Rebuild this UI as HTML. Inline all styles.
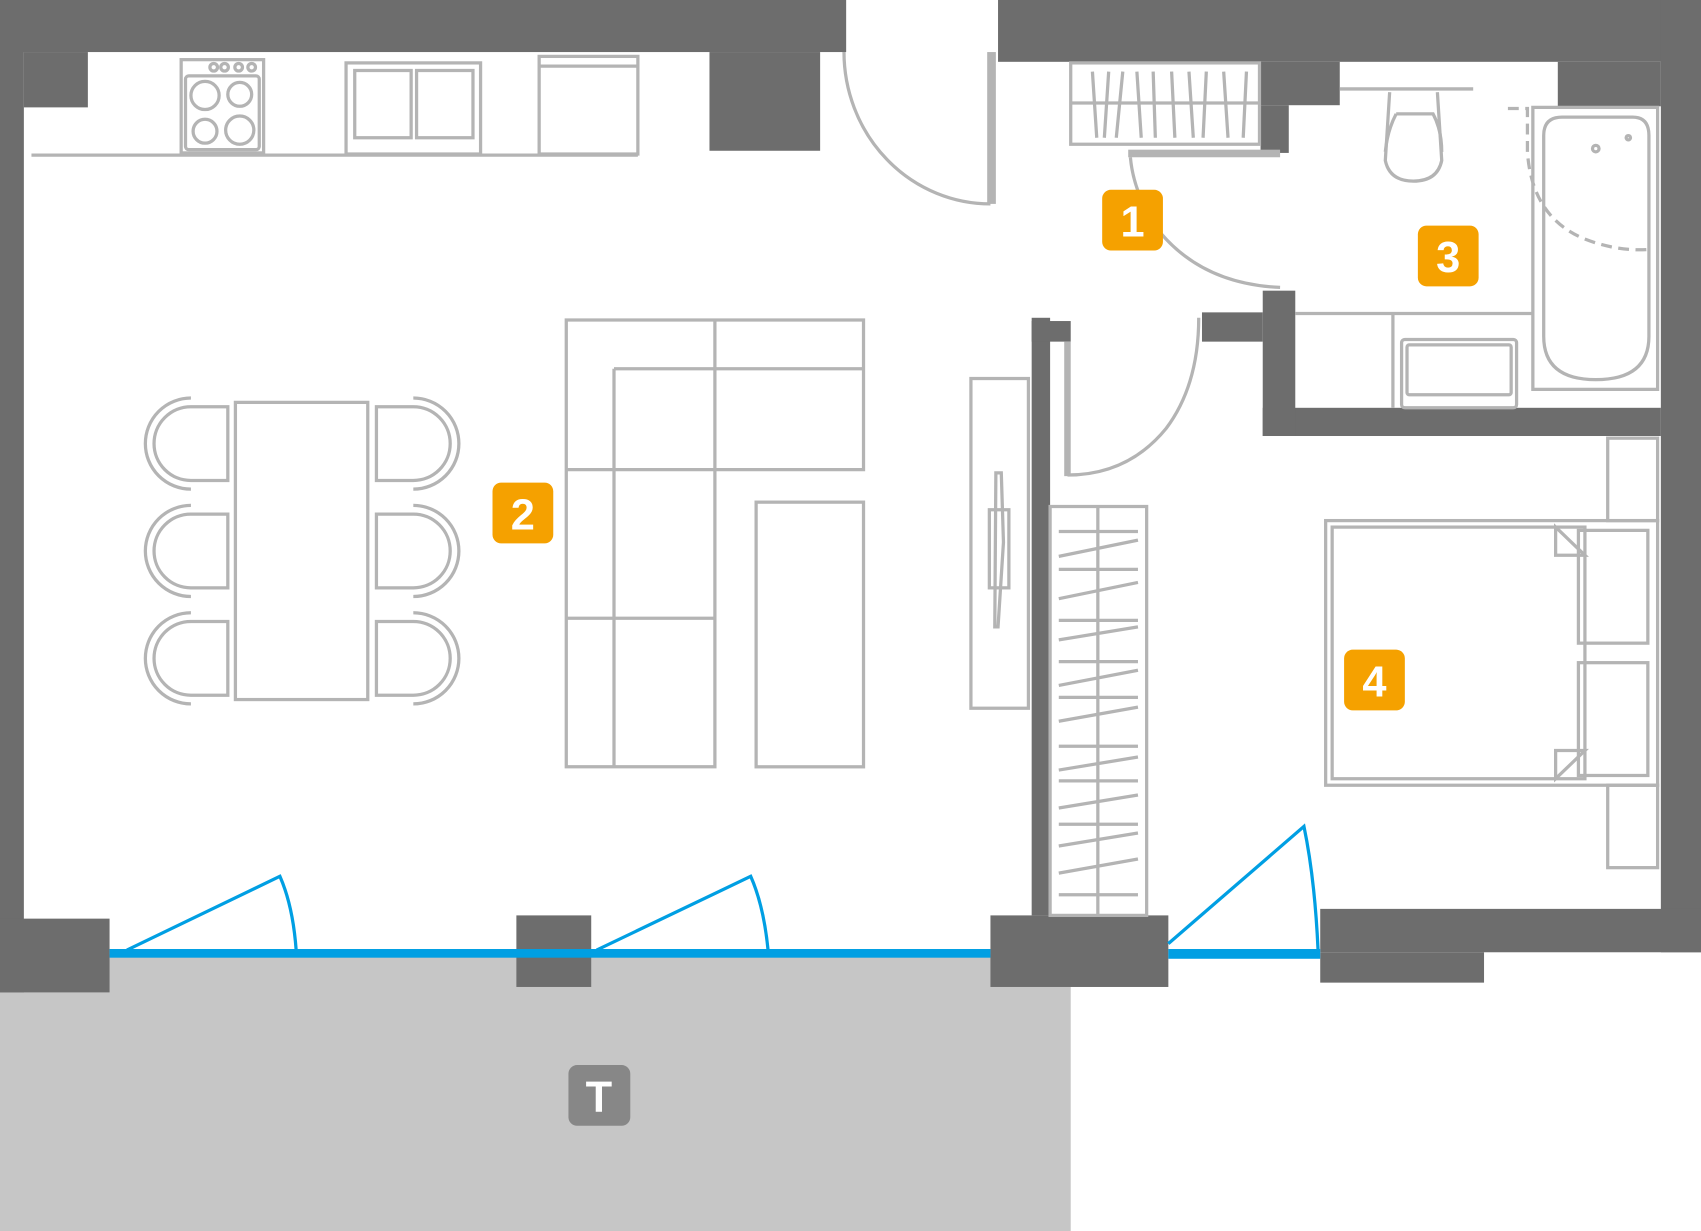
<!DOCTYPE html>
<html><head><meta charset="utf-8"><style>
html,body{margin:0;padding:0;background:#fff;width:1701px;height:1231px;overflow:hidden}
svg{display:block}
.f{fill:none;stroke:#b4b4b4;stroke-width:3}
.w{fill:#6d6d6d}
.lbl{font-family:"Liberation Sans",sans-serif;font-weight:bold;font-size:40px;fill:#fff;text-anchor:middle}
</style></head><body>
<svg width="1701" height="1231" viewBox="0 0 1568 1135" preserveAspectRatio="none" xmlns="http://www.w3.org/2000/svg">
<!-- terrace -->
<rect x="0" y="880" width="987" height="255" fill="#c6c6c6"/>
<!-- walls -->
<g class="w">
<rect x="0" y="0" width="780" height="48"/>
<rect x="0" y="0" width="22" height="915"/>
<rect x="22" y="48" width="59" height="51"/>
<rect x="654" y="48" width="102" height="91"/>
<rect x="0" y="847" width="101" height="68"/>
<rect x="476" y="844" width="69" height="66"/>
<rect x="913" y="844" width="164" height="66"/>
<rect x="920" y="0" width="648" height="57"/>
<rect x="1531" y="0" width="37" height="878"/>
<rect x="1436" y="57" width="95" height="41"/>
<rect x="1162" y="57" width="73" height="40"/>
<rect x="1162" y="97" width="26" height="44"/>
<rect x="1164" y="376" width="367" height="26"/>
<rect x="1164" y="268" width="30" height="134"/>
<rect x="1108" y="288" width="56" height="27"/>
<rect x="951" y="293" width="17" height="551"/>
<rect x="951" y="296" width="36" height="19"/>
<rect x="1217" y="838" width="351" height="40"/>
<rect x="1217" y="878" width="151" height="28"/>
</g>
<!-- window glass -->
<rect x="101" y="875" width="812" height="8" fill="#009fe3"/>
<rect x="1077" y="875" width="140" height="9" fill="#009fe3"/>
<g fill="none" stroke="#009fe3" stroke-width="3">
<path d="M117 876 L258 808 Q270 835 273 876"/>
<path d="M550 876 L692 808 Q704 835 708 876"/>
<path d="M1077 870 L1202 762 Q1212 810 1215 876"/>
</g>
<!-- doors gray -->
<rect x="910" y="48" width="8" height="140" fill="#b4b4b4"/>
<path class="f" d="M778 48 A135 140 0 0 0 913 188"/>
<rect x="1040" y="138" width="140" height="7" fill="#b4b4b4"/>
<path class="f" d="M1042 145 Q1045 180 1070 215 Q1110 262 1180 265"/>
<rect x="981" y="315" width="6" height="124" fill="#b4b4b4"/>
<path class="f" d="M984 438 Q1040 438 1075 395 Q1105 355 1105 293"/>
<!-- kitchen -->
<g class="f">
<line x1="29" y1="143" x2="588" y2="143"/>
<rect x="167" y="55" width="76" height="86"/>
<rect x="171" y="70" width="68" height="68" rx="3"/>
<circle cx="189" cy="88" r="13"/><circle cx="221" cy="87" r="11"/>
<circle cx="189" cy="121" r="11"/><circle cx="221" cy="120" r="13"/>
<circle cx="197" cy="62" r="3.5"/><circle cx="207" cy="62" r="3.5"/><circle cx="220" cy="62" r="3.5"/><circle cx="232" cy="62" r="3.5"/>
<rect x="319" y="58" width="124" height="84"/>
<rect x="327" y="65" width="52" height="62"/><rect x="384" y="65" width="52" height="62"/>
<rect x="497" y="52" width="91" height="90"/><line x1="497" y1="61" x2="588" y2="61"/>
</g>
<!-- dining -->
<g class="f">
<rect x="217" y="371" width="122" height="274"/>
<path d="M210 375 H176 A34 34 0 0 0 176 443 H210 Z"/><path d="M176 367 A42 42 0 0 0 176 451"/>
<path d="M210 474 H176 A34 34 0 0 0 176 542 H210 Z"/><path d="M176 466 A42 42 0 0 0 176 550"/>
<path d="M210 573 H176 A34 34 0 0 0 176 641 H210 Z"/><path d="M176 565 A42 42 0 0 0 176 649"/>
<path d="M347 375 H381 A34 34 0 0 1 381 443 H347 Z"/><path d="M381 367 A42 42 0 0 1 381 451"/>
<path d="M347 474 H381 A34 34 0 0 1 381 542 H347 Z"/><path d="M381 466 A42 42 0 0 1 381 550"/>
<path d="M347 573 H381 A34 34 0 0 1 381 641 H347 Z"/><path d="M381 565 A42 42 0 0 1 381 649"/>
</g>
<!-- sofa -->
<g class="f">
<path d="M522 295 H796 V433 H659 V707 H522 Z"/>
<line x1="659" y1="295" x2="659" y2="433"/>
<line x1="566" y1="340" x2="796" y2="340"/>
<line x1="566" y1="340" x2="566" y2="707"/>
<line x1="522" y1="433" x2="659" y2="433"/>
<line x1="522" y1="570" x2="659" y2="570"/>
<rect x="697" y="463" width="99" height="244"/>
<!-- tv unit -->
<rect x="895" y="349" width="53" height="304"/>
<rect x="912" y="470" width="18" height="72"/>
<path d="M918 436 L923 436 L925 500 L920 578 L917 578 Z"/>
</g>
<!-- wardrobe corridor -->
<g class="f">
<rect x="968" y="467" width="89" height="377"/>
<line x1="1012" y1="467" x2="1012" y2="844"/>
<path d="M976 490 H1049 M976 513 L1049 498 M976 525 H1049 M976 552 L1049 537 M976 572 H1049 M976 590 L1049 578 M976 610 H1049 M976 632 L1049 618 M976 643 H1049 M976 665 L1049 652 M976 688 H1049 M976 710 L1049 698 M976 720 H1049 M976 745 L1049 733 M976 760 H1049 M976 780 L1049 768 M976 805 L1049 792 M976 825 H1049"/>
</g>
<!-- hall wardrobe -->
<g class="f">
<rect x="987" y="58" width="174" height="75"/>
<line x1="987" y1="95" x2="1161" y2="95"/>
<path d="M1007 66 L1011 127 M1022 66 L1018 127 M1035 66 L1029 127 M1048 66 L1052 127 M1063 66 L1065 127 M1080 66 L1083 127 M1096 66 L1100 127 M1112 66 L1109 127 M1128 66 L1132 127 M1149 66 L1146 127"/>
</g>
<!-- bathroom -->
<g class="f">
<line x1="1235" y1="82" x2="1358" y2="82"/>
<path d="M1281 85 L1277 148 Q1281 167 1303 167 Q1325 167 1329 148 L1325 85"/>
<path d="M1287 105 H1321 Q1329 120 1329 140"/>
<path d="M1287 105 Q1279 120 1277 140"/>
<line x1="1194" y1="289" x2="1412" y2="289"/>
<line x1="1284" y1="289" x2="1284" y2="376"/>
<rect x="1292" y="313" width="106" height="63" rx="3"/>
<rect x="1297" y="318" width="96" height="46" rx="2"/>
<rect x="1413" y="99" width="115" height="260"/>
<path d="M1423 125 Q1423 108 1440 108 H1505 Q1520 108 1520 125 V310 Q1520 350 1471 350 Q1423 350 1423 310 Z"/>
<path d="M1390 100 H1408 V140 Q1412 200 1460 220 Q1490 232 1520 230" stroke-dasharray="10 6"/>
<circle cx="1471" cy="137" r="3"/><circle cx="1501" cy="127" r="2"/>
</g>
<!-- bedroom -->
<g class="f">
<rect x="1482" y="404" width="46" height="76"/>
<rect x="1482" y="724" width="46" height="76"/>
<rect x="1222" y="480" width="306" height="244"/>
<rect x="1228" y="486" width="233" height="232"/>
<path d="M1434 486 L1461 512 H1434 Z"/><path d="M1434 718 L1461 692 H1434 Z"/>
<rect x="1455" y="489" width="64" height="104"/>
<rect x="1455" y="611" width="64" height="104"/>
</g>
<!-- labels -->
<rect x="1016" y="175" width="56" height="56" rx="8" fill="#f5a100"/><text class="lbl" x="1044" y="218">1</text>
<rect x="454" y="445" width="56" height="56" rx="8" fill="#f5a100"/><text class="lbl" x="482" y="488">2</text>
<rect x="1307" y="208" width="56" height="56" rx="8" fill="#f5a100"/><text class="lbl" x="1335" y="251">3</text>
<rect x="1239" y="599" width="56" height="56" rx="8" fill="#f5a100"/><text class="lbl" x="1267" y="642">4</text>
<rect x="524" y="982" width="57" height="56" rx="8" fill="#878787"/><text class="lbl" x="552" y="1025">T</text>
</svg>
</body></html>
